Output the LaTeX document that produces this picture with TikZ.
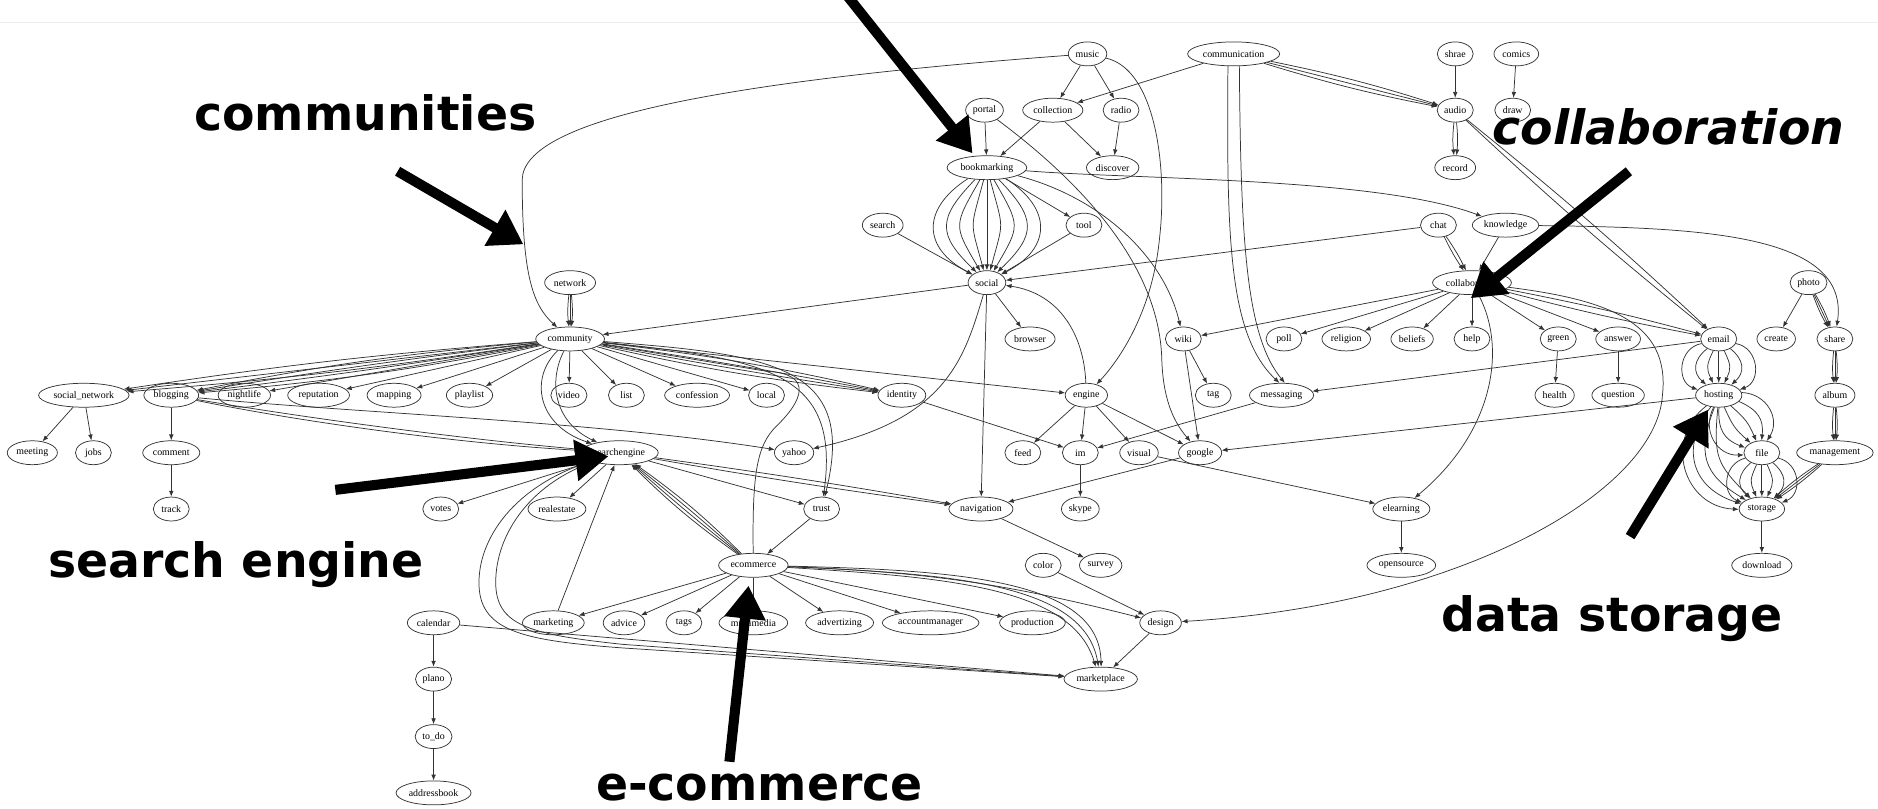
\documentclass[tikz,border=0pt]{standalone}
\usepackage{fontspec}
\setmainfont{Liberation Serif}
\newfontfamily\lblfont{DejaVu Sans}
\usetikzlibrary{arrows.meta,shapes.geometric}
\begin{document}
\begin{tikzpicture}[x=0.02cm,y=-0.02cm,
  nd/.style={draw=black!80, line width=0.35pt, ellipse, minimum height=0.4cm, minimum width=0.6cm, inner xsep=0.03cm, inner ysep=0pt, font=\fontsize{4.7}{5}\selectfont},
  e/.style={draw=black!80, line width=0.35pt, -{Latex[length=2.8pt,width=2.2pt]}},
  big/.style={line width=4.8pt, -{Triangle[length=0.55cm,width=0.66cm]}},
  lbl/.style={font=\lblfont\bfseries\fontsize{22.5}{26}\selectfont, anchor=base, inner sep=0pt}]
\useasboundingbox (0,0) rectangle (1568,675);
\draw[black!7, line width=0.6pt] (0,19) -- (1568,19);
% ---- nodes ----
\node[nd] (music) at (908,45) {music};
\node[nd] (communication) at (1030,45) {communication};
\node[nd] (shrae) at (1215,45) {shrae};
\node[nd] (comics) at (1266,45) {comics};
\node[nd] (portal) at (822,92) {portal};
\node[nd] (collection) at (879,92) {collection};
\node[nd] (radio) at (936,92) {radio};
\node[nd] (audio) at (1215,92) {audio};
\node[nd] (draw) at (1263,92) {draw};
\node[nd] (bookmarking) at (824,140) {bookmarking};
\node[nd] (discover) at (929,140) {discover};
\node[nd] (record) at (1215,140) {record};
\node[nd] (search) at (737,188) {search};
\node[nd] (tool) at (905,188) {tool};
\node[nd] (chat) at (1201,188) {chat};
\node[nd] (knowledge) at (1257,188) {knowledge};
\node[nd] (network) at (476,236) {network};
\node[nd] (social) at (824,236) {social};
\node[nd] (collaboration) at (1229,236) {collaboration};
\node[nd] (photo) at (1510,236) {photo};
\node[nd] (community) at (476,283) {community};
\node[nd] (browser) at (860,283) {browser};
\node[nd] (wiki) at (988,283) {wiki};
\node[nd] (poll) at (1072,283) {poll};
\node[nd] (religion) at (1124,283) {religion};
\node[nd] (beliefs) at (1179,283) {beliefs};
\node[nd] (help) at (1229,283) {help};
\node[nd] (green) at (1301,283) {green};
\node[nd] (answer) at (1351,283) {answer};
\node[nd] (email) at (1435,283) {email};
\node[nd] (create) at (1483,283) {create};
\node[nd] (share) at (1532,283) {share};
\node[nd] (socialnetwork) at (70,330) {social\_network};
\node[nd] (blogging) at (143,330) {blogging};
\node[nd] (nightlife) at (204,330) {nightlife};
\node[nd] (reputation) at (266,330) {reputation};
\node[nd] (mapping) at (329,330) {mapping};
\node[nd] (playlist) at (392,330) {playlist};
\node[nd] (video) at (475,330) {video};
\node[nd] (list) at (523,330) {list};
\node[nd] (confession) at (582,330) {confession};
\node[nd] (local) at (640,330) {local};
\node[nd] (identity) at (753,330) {identity};
\node[nd] (engine) at (907,330) {engine};
\node[nd] (tag) at (1013,330) {tag};
\node[nd] (messaging) at (1070,330) {messaging};
\node[nd] (health) at (1298,330) {health};
\node[nd] (question) at (1351,330) {question};
\node[nd] (hosting) at (1435,330) {hosting};
\node[nd] (album) at (1532,330) {album};
\node[nd] (meeting) at (27,378) {meeting};
\node[nd] (jobs) at (78,378) {jobs};
\node[nd] (comment) at (143,378) {comment};
\node[nd] (searchengine) at (517,378) {searchengine};
\node[nd] (yahoo) at (663,378) {yahoo};
\node[nd] (feed) at (854,378) {feed};
\node[nd] (im) at (902,378) {im};
\node[nd] (visual) at (951,378) {visual};
\node[nd] (google) at (1002,378) {google};
\node[nd] (file) at (1471,378) {file};
\node[nd] (management) at (1532,378) {management};
\node[nd] (track) at (143,425) {track};
\node[nd] (votes) at (368,425) {votes};
\node[nd] (realestate) at (465,425) {realestate};
\node[nd] (trust) at (686,425) {trust};
\node[nd] (navigation) at (819,425) {navigation};
\node[nd] (skype) at (902,425) {skype};
\node[nd] (elearning) at (1170,425) {elearning};
\node[nd] (storage) at (1471,425) {storage};
\node[nd] (ecommerce) at (629,472) {ecommerce};
\node[nd] (color) at (871,472) {color};
\node[nd] (survey) at (919,472) {survey};
\node[nd] (opensource) at (1170,472) {opensource};
\node[nd] (download) at (1471,472) {download};
\node[nd] (calendar) at (362,520) {calendar};
\node[nd] (marketing) at (462,520) {marketing};
\node[nd] (advice) at (521,520) {advice};
\node[nd] (tags) at (571,520) {tags};
\node[nd] (multimedia) at (629,520) {multimedia};
\node[nd] (advertizing) at (701,520) {advertizing};
\node[nd] (accountmanager) at (777,520) {accountmanager};
\node[nd] (production) at (862,520) {production};
\node[nd] (design) at (969,520) {design};
\node[nd] (plano) at (362,567) {plano};
\node[nd] (marketplace) at (919,567) {marketplace};
\node[nd] (todo) at (362,615) {to\_do};
\node[nd] (addressbook) at (362,662) {addressbook};
% ---- edges ----
\draw[e] (music) .. controls (600,68) and (437,100) .. (436,150) .. controls (436,230) and (445,255) .. (community);
\draw[e] (music) -- (collection);
\draw[e] (music) -- (radio);
\draw[e] (music) .. controls (965,58) and (975,140) .. (968,200) .. controls (962,260) and (935,300) .. (engine);
\draw[e] (communication) -- (collection);
\foreach \b in {-3,0,3} \draw[e] (communication) to[bend left=\b] (audio);
\draw[e] (communication.245) .. controls (1024,200) and (1026,280) .. (messaging.100);
\draw[e] (communication.295) .. controls (1036,200) and (1040,280) .. (messaging.75);
\draw[e] (shrae) -- (audio);
\draw[e] (comics) -- (draw);
\foreach \b in {-6,6} \draw[e] (audio) to[bend left=\b] (record);
\foreach \b in {-2,2} \draw[e] (audio) to[bend left=\b] (email);
\draw[e] (portal) -- (bookmarking);
\draw[e] (portal) .. controls (900,150) and (968,220) .. (970,300) .. controls (971,330) and (978,350) .. (google);
\draw[e] (collection) -- (bookmarking);
\draw[e] (collection) -- (discover);
\draw[e] (radio) -- (discover);
\foreach \b in {-60,-45,-30,-15,0,15,30,45,60} \draw[e] (bookmarking) to[bend left=\b, looseness=1.5] (social);
\draw[e] (bookmarking) -- (tool);
\draw[e] (bookmarking) .. controls (920,165) and (972,215) .. (wiki);
\draw[e] (bookmarking) .. controls (950,150) and (1150,148) .. (knowledge);
\draw[e] (search) -- (social);
\draw[e] (tool) -- (social);
\draw[e] (chat) -- (social);
\draw[e] (social) -- (community);
\draw[e] (social) -- (browser);
\draw[e] (social) -- (navigation);
\draw[e] (social) .. controls (805,300) and (790,350) .. (yahoo);
\draw[e] (engine) .. controls (905,280) and (885,245) .. (social);
\foreach \b in {-4,4} \draw[e] (chat) to[bend left=\b] (collaboration);
\draw[e] (knowledge) -- (collaboration);
\draw[e] (knowledge) .. controls (1420,190) and (1545,195) .. (share);
\foreach \b in {-6,0,6} \draw[e] (network) to[bend left=\b] (community);
\foreach \b in {-2,0,2} \draw[e] (community) to[bend left=\b] (socialnetwork);
\foreach \b in {-3,-1,1,3} \draw[e] (community) to[bend left=\b] (blogging);
\draw[e] (community) -- (nightlife);
\draw[e] (community) -- (reputation);
\draw[e] (community) -- (mapping);
\draw[e] (community) -- (playlist);
\draw[e] (community) -- (video);
\draw[e] (community) -- (list);
\draw[e] (community) -- (confession);
\draw[e] (community) -- (local);
\draw[e] (community) -- (engine);
\foreach \b in {-3,-1,1,3} \draw[e] (community) to[bend left=\b] (identity);
\draw[e] (community) .. controls (442,315) and (448,355) .. (searchengine);
\draw[e] (community) .. controls (458,318) and (462,352) .. (searchengine);
\draw[e] (community) .. controls (640,300) and (702,310) .. (trust);
\draw[e] (community) .. controls (645,296) and (716,305) .. (trust);
\draw[e] (ecommerce) .. controls (628,395) and (632,372) .. (648,356) .. controls (670,335) and (680,312) .. (640,310) -- (community);
\draw[e] (socialnetwork) -- (meeting);
\draw[e] (socialnetwork) -- (jobs);
\draw[e] (blogging) -- (comment);
\draw[e] (comment) -- (track);
\draw[e] (blogging) .. controls (250,352) and (380,370) .. (searchengine);
\draw[e] (blogging) .. controls (250,348) and (380,366) .. (searchengine);
\draw[e] (blogging) .. controls (300,345) and (500,352) .. (yahoo);
\draw[e] (searchengine) -- (votes);
\draw[e] (searchengine) -- (realestate);
\draw[e] (marketing) -- (searchengine);
\foreach \b in {-4.5,-1.5,1.5,4.5} \draw[e] (ecommerce) to[bend left=\b] (searchengine);
\draw[e] (searchengine) -- (trust);
\foreach \b in {-1,1} \draw[e] (searchengine) to[bend left=\b] (navigation);
\draw[e] (searchengine) .. controls (430,405) and (398,450) .. (400,490) .. controls (402,528) and (440,535) .. (520,541) -- (marketplace);
\draw[e] (searchengine) .. controls (440,405) and (412,450) .. (414,490) .. controls (416,523) and (445,530) .. (520,538) -- (marketplace);
\draw[e] (calendar) -- (marketplace);
\draw[e] (trust) -- (ecommerce);
\draw[e] (ecommerce) -- (marketing);
\draw[e] (ecommerce) -- (advice);
\draw[e] (ecommerce) -- (tags);
\draw[e] (ecommerce) -- (multimedia);
\draw[e] (ecommerce) -- (advertizing);
\draw[e] (ecommerce) -- (accountmanager);
\draw[e] (ecommerce) -- (production);
\draw[e] (ecommerce) .. controls (790,482) and (895,490) .. (marketplace.112);
\draw[e] (ecommerce) .. controls (795,479) and (905,487) .. (marketplace.100);
\draw[e] (ecommerce) .. controls (800,476) and (918,484) .. (marketplace.88);
\draw[e] (ecommerce) to[bend left=6] (design);
\draw[e] (color) -- (design);
\draw[e] (design) -- (marketplace);
\draw[e] (calendar) -- (plano);
\draw[e] (plano) -- (todo);
\draw[e] (todo) -- (addressbook);
\draw[e] (navigation) -- (survey);
\draw[e] (engine) -- (feed);
\draw[e] (engine) -- (im);
\draw[e] (engine) -- (visual);
\draw[e] (engine) -- (google);
\draw[e] (identity) -- (im);
\draw[e] (wiki) -- (tag);
\draw[e] (wiki) -- (google);
\draw[e] (messaging) -- (im);
\draw[e] (email) -- (messaging);
\draw[e] (hosting) -- (google);
\draw[e] (im) -- (skype);
\draw[e] (google) -- (navigation);
\draw[e] (visual) -- (elearning);
\draw[e] (collaboration) .. controls (1258,290) and (1248,360) .. (elearning);
\draw[e] (elearning) -- (opensource);
\draw[e] (collaboration) -- (wiki);
\draw[e] (collaboration) -- (poll);
\draw[e] (collaboration) -- (religion);
\draw[e] (collaboration) -- (beliefs);
\draw[e] (collaboration) -- (help);
\draw[e] (collaboration) -- (green);
\draw[e] (collaboration) -- (answer);
\foreach \b in {-2,2} \draw[e] (collaboration) to[bend left=\b] (email);
\draw[e] (collaboration) .. controls (1340,250) and (1395,268) .. (1388,330) .. controls (1383,410) and (1220,505) .. (design);
\draw[e] (green) -- (health);
\draw[e] (answer) -- (question);
\foreach \b in {-75,-50,-25,0,25,50,75} \draw[e] (email) to[bend left=\b, looseness=1.3] (hosting);
\foreach \b in {-60,-36,-12,12,36,60} \draw[e] (hosting) to[bend left=\b, looseness=1.2] (file);
\foreach \b in {25,40,55,70} \draw[e] (hosting) to[bend right=\b, looseness=1.3] (storage);
\foreach \b in {-72,-48,-24,0,24,48,72} \draw[e] (file) to[bend left=\b, looseness=1.3] (storage);
\foreach \b in {-4,0,4} \draw[e] (management) to[bend left=\b] (storage);
\draw[e] (storage) -- (download);
\draw[e] (photo) -- (create);
\foreach \b in {-5,0,5} \draw[e] (photo) to[bend left=\b] (share);
\foreach \b in {-6,0,6} \draw[e] (share) to[bend left=\b] (album);
\foreach \b in {-6,0,6} \draw[e] (album) to[bend left=\b] (management);
% ---- annotations ----
\node[lbl] (tcomm) at (305,109) {communities};
\node[lbl] (tsearch) at (197,482) {search engine};
\node[lbl] (tecom) at (634,668) {e-commerce};
\node[lbl, font=\lblfont\bfseries\itshape\fontsize{22.5}{26}\selectfont] (tcollab) at (1393,121) {collaboration};
\node[lbl] (tdata) at (1346,527) {data storage};
\coordinate (p1a) at (707,-4); \coordinate (p1b) at (812,128);
\coordinate (p2a) at (332,143); \coordinate (p2b) at (437,204);
\coordinate (p3a) at (1360,143); \coordinate (p3b) at (1228,249);
\coordinate (p4a) at (280,409); \coordinate (p4b) at (508,381);
\coordinate (p5a) at (609,636); \coordinate (p5b) at (625,489);
\coordinate (p6a) at (1361,448); \coordinate (p6b) at (1426,342);
\draw[big] (p1a) -- (p1b);
\draw[big] (p2a) -- (p2b);
\draw[big] (p3a) -- (p3b);
\draw[big] (p4a) -- (p4b);
\draw[big] (p5a) -- (p5b);
\draw[big] (p6a) -- (p6b);
\end{tikzpicture}
\end{document}
